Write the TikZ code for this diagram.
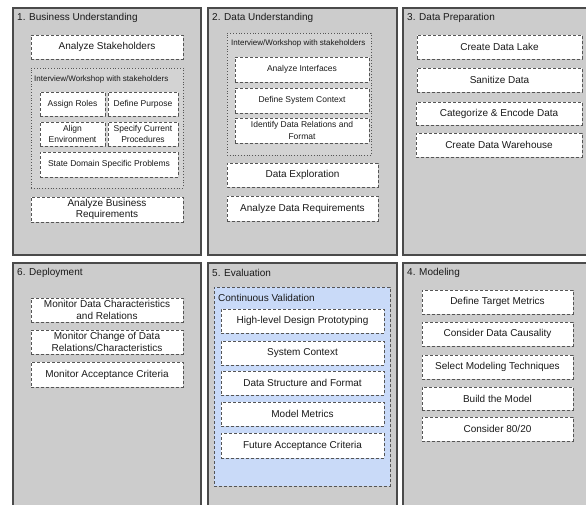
\documentclass[tikz,border=0pt]{standalone}
\usepackage{fontspec}
\setmainfont{Liberation Sans}
\definecolor{panelfill}{HTML}{CCCCCC}
\definecolor{panelline}{HTML}{4A4A4A}
\definecolor{groupfill}{HTML}{D3D3D3}
\definecolor{bluefill}{HTML}{C9DAF8}
\definecolor{boxline}{HTML}{555555}
\definecolor{ink}{HTML}{1A1A1A}
\tikzset{
  panel/.style={draw=panelline, fill=panelfill, line width=1.3pt, rectangle, inner sep=0pt},
  paneltitle/.style={anchor=west, inner sep=0pt, text=ink, font=\fontsize{10}{12}\selectfont},
  stepbox/.style={draw=boxline, fill=white, dash pattern=on 3pt off 2pt, line width=0.9pt,
    rectangle, inner sep=1pt, align=center, text=ink, font=\fontsize{10}{11.8}\selectfont},
  smallbox/.style={stepbox, font=\fontsize{8.5}{11.5}\selectfont},
  groupbox/.style={draw=boxline, fill=groupfill, dotted, line width=0.8pt, rectangle, inner sep=0pt},
  bluegroup/.style={draw=boxline, fill=bluefill, dash pattern=on 3pt off 2pt, line width=0.9pt, rectangle, inner sep=0pt},
  grouplabel/.style={anchor=west, inner sep=0pt, text=ink, font=\fontsize{8}{10}\selectfont},
}
\begin{document}
\begin{tikzpicture}[x=1pt, y=-1pt]
\useasboundingbox (0,0) rectangle (586,504);
\clip (0,0) rectangle (586,504);

% ---- panels ----
\node[panel, minimum width=188pt, minimum height=247pt] (p1) at (107,131.5) {};
\node[panel, minimum width=189pt, minimum height=247pt] (p2) at (302.5,131.5) {};
\node[panel, minimum width=189pt, minimum height=247pt] (p3) at (497.5,131.5) {};
\node[panel, minimum width=188pt, minimum height=249pt] (p6) at (107,387.5) {};
\node[panel, minimum width=189pt, minimum height=249pt] (p5) at (302.5,387.5) {};
\node[panel, minimum width=189pt, minimum height=249pt] (p4) at (497.5,387.5) {};

% ---- 1. Business Understanding ----
\node[paneltitle] (t1) at (17,18) {1. Business Understanding};
\node[stepbox, minimum width=152pt, minimum height=24pt] (bu1) at (107,47) {Analyze Stakeholders};
\node[groupbox, minimum width=152pt, minimum height=120pt] (bug) at (107,128) {};
\node[grouplabel] (bugl) at (34,79) {Interview/Workshop with stakeholders};
\node[smallbox, minimum width=65pt, minimum height=24pt] (bu2) at (72.5,104) {Assign Roles};
\node[smallbox, minimum width=70pt, minimum height=24pt] (bu3) at (143,104) {Define Purpose};
\node[smallbox, minimum width=65pt, minimum height=24pt] (bu4) at (72.5,134) {Align\\Environment};
\node[smallbox, minimum width=70pt, minimum height=24pt] (bu5) at (143,134) {Specify Current\\Procedures};
\node[smallbox, minimum width=138pt, minimum height=25pt] (bu6) at (109,164.5) {State Domain Specific Problems};
\node[stepbox, minimum width=152pt, minimum height=25pt] (bu7) at (107,209.5) {Analyze Business\\Requirements};

% ---- 2. Data Understanding ----
\node[paneltitle] (t2) at (212,18) {2. Data Understanding};
\node[groupbox, minimum width=144pt, minimum height=122pt] (dug) at (299,94) {};
\node[grouplabel] (dugl) at (231,43) {Interview/Workshop with stakeholders};
\node[smallbox, minimum width=134pt, minimum height=25pt] (du1) at (302,69.5) {Analyze Interfaces};
\node[smallbox, minimum width=134pt, minimum height=25pt] (du2) at (302,100.5) {Define System Context};
\node[smallbox, minimum width=134pt, minimum height=25pt] (du3) at (302,130.5) {Identify Data Relations and\\Format};
\node[stepbox, minimum width=151pt, minimum height=24pt] (du4) at (302.5,175) {Data Exploration};
\node[stepbox, minimum width=151pt, minimum height=25pt] (du5) at (302.5,208.5) {Analyze Data Requirements};

% ---- 3. Data Preparation ----
\node[paneltitle] (t3) at (407,18) {3. Data Preparation};
\node[stepbox, minimum width=165pt, minimum height=24pt] (dp1) at (499.5,47) {Create Data Lake};
\node[stepbox, minimum width=165pt, minimum height=24pt] (dp2) at (499.5,80) {Sanitize Data};
\node[stepbox, minimum width=166pt, minimum height=23pt] (dp3) at (499,113.5) {Categorize \& Encode Data};
\node[stepbox, minimum width=166pt, minimum height=24pt] (dp4) at (499,145) {Create Data Warehouse};

% ---- 6. Deployment ----
\node[paneltitle] (t6) at (17,273) {6. Deployment};
\node[stepbox, minimum width=152pt, minimum height=24pt] (de1) at (107,310) {Monitor Data Characteristics\\and Relations};
\node[stepbox, minimum width=152pt, minimum height=24pt] (de2) at (107,342) {Monitor Change of Data\\Relations/Characteristics};
\node[stepbox, minimum width=152pt, minimum height=25pt] (de3) at (107,374.5) {Monitor Acceptance Criteria};

% ---- 5. Evaluation ----
\node[paneltitle] (t5) at (212,273) {5. Evaluation};
\node[bluegroup, minimum width=176pt, minimum height=199pt] (evg) at (302,386.5) {};
\node[paneltitle] (evgl) at (218,298) {Continuous Validation};
\node[stepbox, minimum width=163pt, minimum height=24pt] (ev1) at (302.5,321) {High-level Design Prototyping};
\node[stepbox, minimum width=163pt, minimum height=24pt] (ev2) at (302.5,353) {System Context};
\node[stepbox, minimum width=163pt, minimum height=24pt] (ev3) at (302.5,383) {Data Structure and Format};
\node[stepbox, minimum width=163pt, minimum height=24pt] (ev4) at (302.5,414) {Model Metrics};
\node[stepbox, minimum width=163pt, minimum height=25pt] (ev5) at (302.5,445.5) {Future Acceptance Criteria};

% ---- 4. Modeling ----
\node[paneltitle] (t4) at (407,273) {4. Modeling};
\node[stepbox, minimum width=151pt, minimum height=24pt] (mo1) at (497.5,302) {Define Target Metrics};
\node[stepbox, minimum width=151pt, minimum height=24pt] (mo2) at (497.5,334) {Consider Data Causality};
\node[stepbox, minimum width=151pt, minimum height=24pt] (mo3) at (497.5,367) {Select Modeling Techniques};
\node[stepbox, minimum width=151pt, minimum height=23pt] (mo4) at (497.5,398.5) {Build the Model};
\node[stepbox, minimum width=151pt, minimum height=24pt] (mo5) at (497.5,429) {Consider 80/20};
\end{tikzpicture}
\end{document}
